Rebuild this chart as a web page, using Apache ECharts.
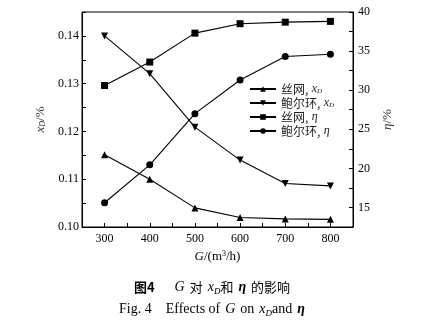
<!DOCTYPE html>
<html><head><meta charset="utf-8">
<script src="https://cdn.jsdelivr.net/npm/echarts@6/dist/echarts.min.js"></script>
<style>html,body{margin:0;padding:0;background:#fff}#c{width:424px;height:323px}</style>
</head><body><div id="c"></div>
<script>
// Gas flow rate G (m³/h)
const gasFlow = [300, 400, 500, 600, 700, 800];
// Outlet concentration xD (%) — left axis
const meshXD = [0.1151, 0.1100, 0.1040, 0.1020, 0.1017, 0.1016];
const pallXD = [0.1400, 0.1321, 0.1209, 0.1140, 0.1091, 0.1086];
// Efficiency η (%) — right axis
const meshEta = [30.6, 33.6, 37.3, 38.5, 38.7, 38.8];
const pallEta = [15.6, 20.45, 27.0, 31.3, 34.3, 34.6];

const seriesNames = ['丝网, xD', '鲍尔环, xD', '丝网, η', '鲍尔环, η'];
const legendRich = {
  '丝网, xD': '{c|丝网,} {i|x}{s|D}',
  '鲍尔环, xD': '{c|鲍尔环,} {i|x}{s|D}',
  '丝网, η': '{c|丝网,} {i|η}',
  '鲍尔环, η': '{c|鲍尔环,} {i|η}'
};

const serif = "'Liberation Serif','Times New Roman','Noto Sans CJK SC',serif";
const cjk = "'Noto Sans CJK SC','Liberation Serif',serif";

function pairs(ys) { return gasFlow.map((x, i) => [x, ys[i]]); }

const chart = echarts.init(document.getElementById('c'), null, {renderer: 'canvas'});

const axisCommon = {
  axisLine: {show: true, lineStyle: {color: '#000', width: 1}},
  axisTick: {show: true, inside: true, length: 4, lineStyle: {color: '#000'}},
  splitLine: {show: false},
  axisLabel: {color: '#000', fontFamily: serif, fontSize: 12}
};

function mkSeries(name, data, symbol, yIdx) {
  return {
    name: name, type: 'line', yAxisIndex: yIdx, data: pairs(data),
    symbol: symbol, symbolSize: 7,
    lineStyle: {color: '#000', width: 1.1},
    itemStyle: {color: '#000'},
    emphasis: {disabled: true}, animation: false
  };
}

const tN = {fontWeight: 'normal', color: '#000'};

chart.setOption({
  backgroundColor: '#fff',
  animation: false,
  grid: {left: 82, right: 71, top: 12, bottom: 96, show: true, borderColor: '#000', borderWidth: 1},
  xAxis: Object.assign({}, axisCommon, {
    type: 'value', min: 250, max: 850, interval: 50,
    axisLabel: Object.assign({}, axisCommon.axisLabel, {
      margin: 6,
      formatter: v => (v % 100 === 0 ? String(v) : '')
    }),
    name: '{i|G}{r|/(m}{s|3}{r|/h)}', nameLocation: 'middle', nameGap: 19,
    nameTextStyle: {
      rich: {
        i: {fontFamily: serif, fontStyle: 'italic', fontSize: 13, color: '#000'},
        r: {fontFamily: serif, fontSize: 13, color: '#000'},
        s: {fontFamily: serif, fontSize: 8, color: '#000', verticalAlign: 'top', padding: [0, 0, 6, 0]}
      }
    }
  }),
  yAxis: [
    Object.assign({}, axisCommon, {
      type: 'value', min: 0.10, max: 0.145, interval: 0.005, position: 'left',
      axisLabel: Object.assign({}, axisCommon.axisLabel, {
        margin: 3,
        formatter: v => (Math.abs(v * 100 - Math.round(v * 100)) < 1e-6 ? v.toFixed(2) : '')
      }),
      name: '{i|x}{s|D}{r|/%}', nameLocation: 'middle', nameGap: 28, nameRotate: 90,
      nameTextStyle: {
        rich: {
          i: {fontFamily: serif, fontStyle: 'italic', fontSize: 13, color: '#333'},
          s: {fontFamily: serif, fontStyle: 'italic', fontSize: 8, color: '#333', verticalAlign: 'bottom', padding: [5, 0, 0, 0]},
          r: {fontFamily: serif, fontSize: 13, color: '#333'}
        }
      }
    }),
    Object.assign({}, axisCommon, {
      type: 'value', min: 12.5, max: 40, interval: 2.5, position: 'right',
      axisLabel: Object.assign({}, axisCommon.axisLabel, {
        margin: 5,
        formatter: v => (Math.abs(v % 5) < 1e-9 ? String(v) : '')
      }),
      name: '{i|η}{r|/%}', nameLocation: 'middle', nameGap: 22, nameRotate: 90,
      nameTextStyle: {
        rich: {
          i: {fontFamily: serif, fontStyle: 'italic', fontSize: 13, color: '#333'},
          r: {fontFamily: serif, fontSize: 13, color: '#333'}
        }
      }
    })
  ],
  legend: {
    orient: 'vertical', left: 244, top: 78,
    itemWidth: 26, itemHeight: 7, itemGap: 2,
    data: seriesNames,
    formatter: n => legendRich[n],
    textStyle: {
      color: '#000', fontSize: 12,
      rich: {
        c: {fontFamily: cjk, fontSize: 12, color: '#222'},
        i: {fontFamily: serif, fontStyle: 'italic', fontSize: 12, color: '#222'},
        s: {fontFamily: serif, fontStyle: 'italic', fontSize: 7, color: '#222', verticalAlign: 'bottom', padding: [4, 0, 0, 0]}
      }
    }
  },
  title: [
    {
      text: '{b|图4}    {i|G} {c|对} {i|x}{s|D}{c|和} {e|η} {c|的影响}',
      left: 'center', top: 273,
      textStyle: {
        fontWeight: 'normal',
        rich: {
          b: {fontFamily: cjk, fontWeight: 'bold', fontSize: 13, color: '#000'},
          c: Object.assign({fontFamily: cjk, fontSize: 13}, tN),
          i: Object.assign({fontFamily: serif, fontStyle: 'italic', fontSize: 14}, tN),
          e: {fontFamily: serif, fontStyle: 'italic', fontWeight: 'bold', fontSize: 14, color: '#000'},
          s: Object.assign({fontFamily: serif, fontStyle: 'italic', fontSize: 9, verticalAlign: 'bottom', padding: [6, 0, 0, 0]}, tN)
        }
      }
    },
    {
      text: '{r|Fig. 4    Effects of} {i|G} {r|on} {i|x}{s|D}{r|and} {e|η}',
      left: 'center', top: 295,
      textStyle: {
        fontWeight: 'normal',
        rich: {
          r: Object.assign({fontFamily: serif, fontSize: 14}, tN),
          i: Object.assign({fontFamily: serif, fontStyle: 'italic', fontSize: 14}, tN),
          e: {fontFamily: serif, fontStyle: 'italic', fontWeight: 'bold', fontSize: 14, color: '#000'},
          s: Object.assign({fontFamily: serif, fontStyle: 'italic', fontSize: 9, verticalAlign: 'bottom', padding: [6, 0, 0, 0]}, tN)
        }
      }
    }
  ],
  series: [
    mkSeries(seriesNames[0], meshXD, 'triangle', 0),
    mkSeries(seriesNames[1], pallXD, 'path://M0,0 L10,0 L5,9 Z', 0),
    mkSeries(seriesNames[2], meshEta, 'rect', 1),
    mkSeries(seriesNames[3], pallEta, 'circle', 1)
  ]
});
</script>
</body></html>
